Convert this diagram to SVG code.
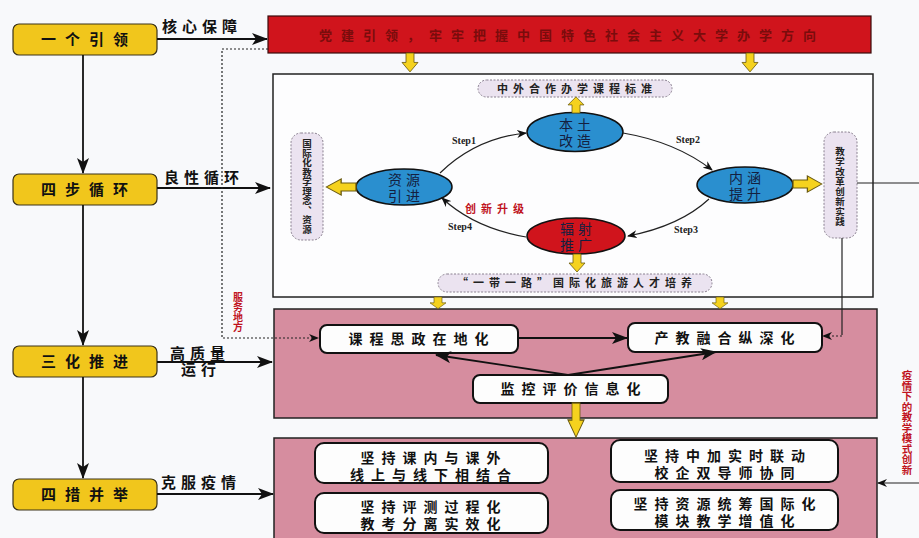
<svg xmlns="http://www.w3.org/2000/svg" width="919" height="538" viewBox="0 0 919 538">
<style>
  .cn{font-family:"Noto Sans CJK SC","Noto Sans",sans-serif;font-weight:bold;}
  .ybox{fill:#f1c61c;stroke:#3a3218;stroke-width:1.2;}
  .ytxt{font-size:15px;letter-spacing:9px;fill:#111;text-anchor:middle;}
  .lbl{font-size:15px;letter-spacing:5px;fill:#111;}
  .wbox{fill:#fdfdfe;stroke:#222;stroke-width:1.5;}
  .pbox{fill:#d68d9f;stroke:#222;stroke-width:1.5;}
  .card{fill:#fdfdfd;stroke:#111;stroke-width:2;}
  .ctxt{font-size:14px;letter-spacing:7px;fill:#111;text-anchor:middle;}
  .pill{fill:#ebe3f0;stroke:#8a8090;stroke-width:1;stroke-dasharray:2,1.5;}
  .ptxt{font-size:11px;letter-spacing:5px;fill:#222;text-anchor:middle;}
  .vt{writing-mode:vertical-rl;fill:#222;}
  .ell{stroke:#111;stroke-width:1.5;}
  .etxt{font-family:"Noto Sans CJK SC",sans-serif;font-weight:normal;font-size:14px;letter-spacing:4px;fill:#142040;text-anchor:middle;}
  .step{font-family:"Liberation Serif",serif;font-weight:bold;font-size:10px;fill:#222;}
  .red{fill:#c0141e;}
  .ln{stroke:#111;stroke-width:1.8;fill:none;}
  .thin{stroke:#222;stroke-width:1.2;fill:none;}
  .dot{stroke:#222;stroke-width:1.2;fill:none;stroke-dasharray:2,2;}
  .yarr{fill:#f5d21e;stroke:#6a5a10;stroke-width:0.8;}
</style>
<defs>
  <marker id="ah" markerWidth="10" markerHeight="8" refX="9" refY="4" orient="auto" markerUnits="userSpaceOnUse">
    <path d="M0,0 L10,4 L0,8 L3,4 Z" fill="#111"/>
  </marker>
  <marker id="ahL" markerWidth="16" markerHeight="12" refX="15" refY="6" orient="auto" markerUnits="userSpaceOnUse">
    <path d="M0,0 L16,6 L0,12 L4,6 Z" fill="#111"/>
  </marker>
  <path id="ydown" d="M-4,0 H4 V9 H8 L0,18 L-8,9 H-4 Z"/>
</defs>
<rect x="0" y="0" width="919" height="538" fill="#f8f9fb"/>

<!-- Left column nodes -->
<g id="n-yige" class="cn">
  <rect class="ybox" x="13" y="24" width="144" height="31" rx="6"/>
  <text class="ytxt" x="89" y="45">一个引领</text>
</g>
<g id="n-sibu" class="cn">
  <rect class="ybox" x="13" y="174" width="144" height="31" rx="6"/>
  <text class="ytxt" x="89" y="195">四步循环</text>
</g>
<g id="n-sanhua" class="cn">
  <rect class="ybox" x="13" y="346" width="144" height="31" rx="6"/>
  <text class="ytxt" x="89" y="367">三化推进</text>
</g>
<g id="n-sicuo" class="cn">
  <rect class="ybox" x="13" y="479" width="144" height="31" rx="6"/>
  <text class="ytxt" x="89" y="500">四措并举</text>
</g>

<!-- Red banner -->
<g id="n-banner" class="cn">
  <rect x="268" y="16" width="603" height="37" fill="#d0141c" stroke="#3a0a0a" stroke-width="1.2"/>
  <text x="572" y="40" font-size="13" letter-spacing="9" fill="#7a0c0c" text-anchor="middle">党建引领，牢牢把握中国特色社会主义大学办学方向</text>
</g>

<!-- Main white box -->
<g id="n-cycle-frame">
  <rect class="wbox" x="273" y="74" width="600" height="223"/>
</g>

<g id="n-toppill" class="cn">
  <rect class="pill" x="478" y="80" width="194" height="17" rx="8.5"/>
  <text class="ptxt" x="577" y="93">中外合作办学课程标准</text>
</g>
<g id="n-botpill" class="cn">
  <rect class="pill" x="438" y="274" width="274" height="18" rx="9"/>
  <text class="ptxt" x="577" y="287">“一带一路”国际化旅游人才培养</text>
</g>
<g id="n-leftpill" class="cn">
  <rect class="pill" x="291" y="133" width="32" height="107" rx="10"/>
  <text class="vt" x="307" y="139" font-size="9.5">国际化教学理念、资源</text>
</g>
<g id="n-rightpill" class="cn">
  <rect class="pill" x="824" y="132" width="33" height="106" rx="10"/>
  <text class="vt" x="840" y="147" font-size="9.5" letter-spacing="0.5">教学改革创新实践</text>
</g>

<g id="n-bentu">
  <ellipse class="ell" cx="575" cy="132" rx="48" ry="19.5" fill="#2a8fcf"/>
  <text class="etxt"><tspan x="577" y="130">本土</tspan><tspan x="577" y="146">改造</tspan></text>
</g>
<g id="n-ziyuan">
  <ellipse class="ell" cx="404" cy="187" rx="48" ry="18" fill="#2a8fcf"/>
  <text class="etxt"><tspan x="406" y="185">资源</tspan><tspan x="406" y="201">引进</tspan></text>
</g>
<g id="n-neihan">
  <ellipse class="ell" cx="745" cy="185" rx="48" ry="18" fill="#2a8fcf"/>
  <text class="etxt"><tspan x="747" y="183">内涵</tspan><tspan x="747" y="199">提升</tspan></text>
</g>
<g id="n-fushe">
  <ellipse class="ell" cx="576" cy="236" rx="49" ry="18" fill="#d0141c"/>
  <text class="etxt"><tspan x="578" y="234">辐射</tspan><tspan x="578" y="250">推广</tspan></text>
</g>

<!-- Pink box 1 -->
<g id="n-pink1">
  <rect class="pbox" x="274" y="309" width="603" height="109"/>
</g>
<g id="n-kecheng" class="cn">
  <rect class="card" x="320" y="325" width="198" height="28" rx="7"/>
  <text class="ctxt" x="422" y="344">课程思政在地化</text>
</g>
<g id="n-chanjiao" class="cn">
  <rect class="card" x="628" y="323" width="194" height="29" rx="7"/>
  <text class="ctxt" x="728" y="343">产教融合纵深化</text>
</g>
<g id="n-jiankong" class="cn">
  <rect class="card" x="473" y="375" width="195" height="28" rx="7"/>
  <text class="ctxt" x="574" y="394">监控评价信息化</text>
</g>

<!-- Pink box 2 -->
<g id="n-pink2">
  <rect class="pbox" x="274" y="438" width="603" height="110"/>
</g>
<g id="n-c1" class="cn">
  <rect class="card" x="315" y="443" width="233" height="40" rx="9"/>
  <text class="ctxt" font-size="15"><tspan x="434" y="463">坚持课内与课外</tspan><tspan x="434" y="480">线上与线下相结合</tspan></text>
</g>
<g id="n-c2" class="cn">
  <rect class="card" x="315" y="493" width="233" height="40" rx="9"/>
  <text class="ctxt" font-size="15"><tspan x="434" y="512">坚持评测过程化</tspan><tspan x="434" y="529">教考分离实效化</tspan></text>
</g>
<g id="n-c3" class="cn">
  <rect class="card" x="611" y="440" width="227" height="42" rx="9"/>
  <text class="ctxt" font-size="15"><tspan x="728" y="461">坚持中加实时联动</tspan><tspan x="728" y="478">校企双导师协同</tspan></text>
</g>
<g id="n-c4" class="cn">
  <rect class="card" x="611" y="490" width="227" height="40" rx="9"/>
  <text class="ctxt" font-size="15"><tspan x="728" y="509">坚持资源统筹国际化</tspan><tspan x="728" y="526">模块教学增值化</tspan></text>
</g>

<!-- Connectors -->
<g id="connectors">
  <line class="ln" x1="83" y1="55" x2="83" y2="173" stroke-width="2.5" marker-end="url(#ahL)"/>
  <line class="ln" x1="83" y1="205" x2="83" y2="345" stroke-width="2.5" marker-end="url(#ahL)"/>
  <line class="ln" x1="83" y1="377" x2="83" y2="478" stroke-width="2.5" marker-end="url(#ahL)"/>
  <line class="ln" x1="157" y1="39" x2="267" y2="39" marker-end="url(#ahL)"/>
  <line class="ln" x1="157" y1="188" x2="270" y2="188" marker-end="url(#ahL)"/>
  <line class="ln" x1="157" y1="362" x2="272" y2="362" marker-end="url(#ahL)"/>
  <line class="ln" x1="157" y1="494" x2="273" y2="494" marker-end="url(#ahL)"/>
  <polyline class="dot" points="268,49 222,49 222,338 318,338" marker-end="url(#ah)"/>
  <line class="thin" x1="857" y1="183" x2="919" y2="183"/>
  <polyline class="thin" points="842,238 842,335"/>
  <line class="dot" x1="842" y1="336" x2="823" y2="336" marker-end="url(#ah)"/>
  <line class="thin" x1="919" y1="483" x2="878" y2="483" marker-end="url(#ah)"/>
  <path class="thin" stroke-width="1.5" d="M440,173 Q476,138 526,133" marker-end="url(#ah)"/>
  <path class="thin" stroke-width="1.5" d="M623,133 Q676,142 712,170" marker-end="url(#ah)"/>
  <path class="thin" stroke-width="1.5" d="M709,199 Q680,226 628,236" marker-end="url(#ah)"/>
  <path class="thin" stroke-width="1.5" d="M526,237 Q474,228 442,198" marker-end="url(#ah)"/>
  <line class="ln" x1="518" y1="338" x2="627" y2="338" stroke-width="2" marker-end="url(#ahL)"/>
  <line class="ln" x1="568" y1="375" x2="436" y2="355" stroke-width="2" marker-end="url(#ahL)"/>
  <line class="ln" x1="568" y1="375" x2="716" y2="352" stroke-width="2" marker-end="url(#ahL)"/>
  <use href="#ydown" class="yarr" transform="translate(410,53) scale(1,1.05)"/>
  <use href="#ydown" class="yarr" transform="translate(750,53) scale(1,1.05)"/>
  <use href="#ydown" class="yarr" transform="translate(438,297) scale(1,0.65)"/>
  <use href="#ydown" class="yarr" transform="translate(720,297) scale(1,0.65)"/>
  <use href="#ydown" class="yarr" transform="translate(576,403) scale(1,1.9)"/>
  <use href="#ydown" class="yarr" transform="translate(577,254)"/>
  <use href="#ydown" class="yarr" transform="translate(576,113) scale(1,-0.9)"/>
  <use href="#ydown" class="yarr" transform="translate(356,187) rotate(90) scale(1,1.65)"/>
  <use href="#ydown" class="yarr" transform="translate(793,184) rotate(-90) scale(1,1.6)"/>
</g>

<!-- Labels -->
<g id="labels" class="cn">
  <text class="lbl" x="162" y="32">核心保障</text>
  <text class="lbl" x="164" y="183">良性循环</text>
  <text class="lbl" font-size="14"><tspan x="170" y="359">高质量</tspan><tspan x="181" y="375">运行</tspan></text>
  <text class="lbl" x="161" y="488">克服疫情</text>
  <text class="red" x="465" y="213" font-size="11" letter-spacing="5">创新升级</text>
  <text class="vt red" x="238" y="292" font-size="10">服务地方</text>
  <text class="vt red" x="907" y="370" font-size="10.5">疫情下的教学模式创新</text>
</g>
<g id="step-labels">
  <text class="step" x="452" y="144">Step1</text>
  <text class="step" x="676" y="143">Step2</text>
  <text class="step" x="674" y="233">Step3</text>
  <text class="step" x="448" y="230">Step4</text>
</g>
</svg>
